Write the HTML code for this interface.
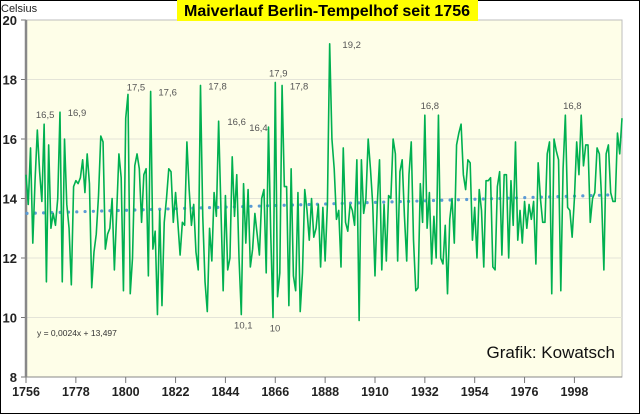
<!DOCTYPE html>
<html><head><meta charset="utf-8"><style>
body{margin:0;background:#fff;}
svg{display:block;font-family:"Liberation Sans",sans-serif;}
</style></head><body>
<svg id="chart" width="640" height="414" viewBox="0 0 640 414">
<rect x="0.5" y="0.5" width="639" height="413" fill="#fff" stroke="#000"/>
<rect x="26" y="20" width="596" height="357" fill="#fefee8" stroke="#bdbdbd"/>
<rect x="177" y="0" width="301" height="21" fill="#ffff00"/>
<text x="327" y="16" text-anchor="middle" font-size="16" font-weight="bold" fill="#000">Maiverlauf Berlin-Tempelhof seit 1756</text>
<text x="1" y="12" font-size="11" fill="#222">Celsius</text>
<g id="grid"></g><g id="axes"></g><g id="series"></g><g id="labels"></g>
<text x="37" y="336" font-size="8.5" fill="#333">y = 0,0024x + 13,497</text>
<text x="615" y="358" text-anchor="end" font-size="17" fill="#111">Grafik: Kowatsch</text>
</svg>
<script>
const startYear = 1756;
const temps = [14.8,13.8,15.7,12.5,14.6,16.3,14.9,13.9,16.5,11.2,15.8,13.0,13.5,13.1,14.0,16.9,11.2,16.0,13.8,13.0,11.1,14.4,14.6,14.5,14.7,15.3,14.2,15.5,14.5,11.0,12.2,12.8,14.1,16.1,15.9,12.3,12.8,13.0,14.0,11.6,13.5,15.5,14.7,10.9,16.7,17.5,10.8,12.0,15.1,15.5,15.0,13.2,14.8,15.0,11.4,17.6,12.3,12.9,10.1,13.6,10.4,13.2,14.0,15.0,14.9,13.2,14.2,13.2,12.1,13.2,13.1,15.9,14.3,13.1,13.8,12.2,11.6,17.8,13.4,11.2,10.2,13.0,11.9,14.2,13.4,16.6,13.7,10.9,14.1,11.6,12.0,15.4,13.4,14.8,12.0,10.1,14.5,12.5,14.3,11.7,12.3,13.5,12.8,12.1,14.0,14.3,11.5,16.4,12.8,10.0,17.9,10.7,11.5,17.8,14.4,14.4,10.4,15.0,11.4,10.9,14.2,10.2,11.5,14.3,13.6,12.6,14.0,12.7,13.0,13.8,11.7,13.7,11.9,13.8,
19.2,16.0,15.0,13.3,13.6,11.7,15.7,13.2,12.9,13.8,13.6,13.1,15.3,9.9,15.3,13.5,14.0,16.0,15.0,13.8,11.4,13.8,15.3,11.6,13.8,11.9,14.1,14.0,16.0,15.5,11.9,14.9,15.3,13.4,11.9,14.8,15.9,12.6,10.9,11.0,14.5,13.2,16.8,13.0,14.2,11.8,13.4,12.0,16.8,12.0,11.8,13.1,10.8,13.3,14.0,12.5,15.8,16.2,16.5,14.8,14.3,15.3,15.2,12.6,13.7,12.0,14.3,13.6,11.7,14.6,14.6,14.7,11.7,11.6,14.4,14.9,12.1,14.8,14.8,12.0,14.6,13.1,15.9,12.6,13.6,12.5,13.9,13.0,13.8,13.3,13.9,11.8,15.2,14.0,13.2,13.2,15.5,15.9,10.8,16.0,15.6,15.3,10.9,15.0,16.8,13.7,13.6,12.7,14.0,15.9,14.8,16.8,15.1,15.8,15.8,13.2,14.0,14.2,15.7,15.5,14.0,11.6,15.5,15.8,14.2,13.9,13.9,16.2,15.5,16.7];
const yTicks = [8,10,12,14,16,18,20];
const xTickYears = [1756,1778,1800,1822,1844,1866,1888,1910,1932,1954,1976,1998];
const trendSlope = 0.0024;
const trendIntercept = 13.497;
const peakYears = [1764,1771,1801,1811,1833,1841,1862,1866,1869,1890,1933,1993];
const lowYears = [1851,1865];

const NS="http://www.w3.org/2000/svg";
const X0=26,X1=622,Y0=377,Y1=20;
const nYears=temps.length;
const pxPerYear=(X1-X0)/(nYears-1);
function xs(yr){return X0+(yr-startYear)*pxPerYear;}
function ys(v){return Y0-(v-8)/(20-8)*(Y0-Y1);}
function mk(tag,attrs,parent){const e=document.createElementNS(NS,tag);for(const k in attrs)e.setAttribute(k,attrs[k]);parent.appendChild(e);return e;}
const grid=document.getElementById('grid'),axes=document.getElementById('axes'),series=document.getElementById('series'),labels=document.getElementById('labels');

yTicks.forEach(t=>{
  const y=ys(t);
  if(t>8&&t<20){const g=mk('line',{x1:X0,x2:X1,y1:y,y2:y,stroke:'#e4e4d8','stroke-width':1},grid);
  
  }
  const tk=mk('line',{x1:X0-5,x2:X0,y1:y,y2:y,stroke:'#777','stroke-width':1},axes);
  
  
  const tx=mk('text',{x:X0-9,y:y+5,'text-anchor':'end','font-size':13,'font-weight':'bold',fill:'#222'},axes);
  tx.textContent=t;
  
  
});
const ya=mk('line',{x1:X0,x2:X0,y1:Y1,y2:Y0,stroke:'#888','stroke-width':2.5},axes);


const xa=mk('line',{x1:X0,x2:X1,y1:Y0,y2:Y0,stroke:'#888','stroke-width':1},axes);


xTickYears.forEach(yr=>{
  const x=xs(yr);
  const tk=mk('line',{x1:x,x2:x,y1:Y0,y2:Y0+6,stroke:'#777','stroke-width':1},axes);
  
  
  const tx=mk('text',{x:x,y:Y0+19,'text-anchor':'middle','font-size':12.5,'font-weight':'bold',fill:'#222'},axes);
  tx.textContent=yr;
  
  
});

const tY0=trendIntercept+trendSlope*1, tY1=trendIntercept+trendSlope*nYears;
const tr=mk('line',{x1:X0+1,y1:ys(tY0),x2:X1-8,y2:ys(tY1-trendSlope*3),stroke:'#5b9bd5','stroke-width':3.2,'stroke-linecap':'round','stroke-dasharray':'0 8.3'},series);



const pts=temps.map((v,i)=>xs(startYear+i).toFixed(2)+','+ys(v).toFixed(2)).join(' ');
const pl=mk('polyline',{points:pts,fill:'none',stroke:'#00b050','stroke-width':1.6,'stroke-linejoin':'round'},series);



// label offsets (styling only): [dx, dy] relative to point
const peakOffsets = [[1,-6],[17,4],[8,-4],[17,4],[17,4],[18,4],[-10,4],[3,-6],[17,4],[22,4],[5,-6],[7,-6]];
function extremeNear(yr,high,w){
  let best=Math.min(nYears-1,Math.max(0,yr-startYear));
  for(let i=Math.max(0,yr-startYear-w);i<=Math.min(nYears-1,yr-startYear+w);i++){
    if(high?temps[i]>temps[best]:temps[i]<temps[best])best=i;
  }
  return best;
}
function addLabel(i,dx,dy){
  const v=temps[i];
  const tx=mk('text',{x:xs(startYear+i)+dx,y:ys(v)+dy,'text-anchor':'middle','font-size':9.5,fill:'#555'},labels);
  tx.textContent=String(v).replace('.',',');
  
  
}
peakYears.forEach((yr,k)=>addLabel(extremeNear(yr,true,2),peakOffsets[k][0],peakOffsets[k][1]));
lowYears.forEach(yr=>addLabel(extremeNear(yr,false,1),2,14));
</script>
</body></html>
